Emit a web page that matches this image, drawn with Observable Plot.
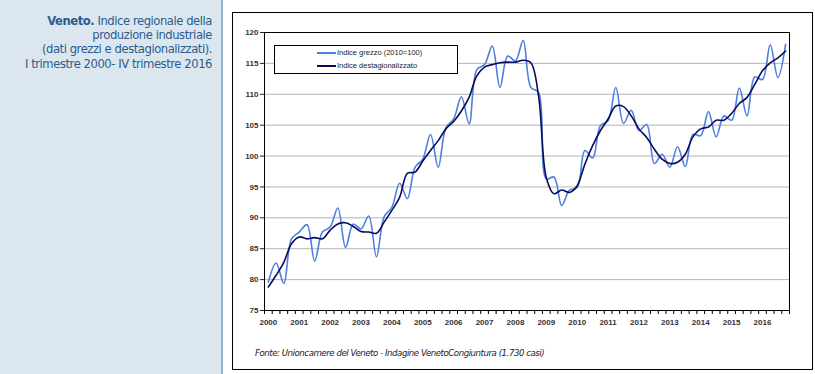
<!DOCTYPE html>
<html>
<head>
<meta charset="utf-8">
<script src="https://cdn.jsdelivr.net/npm/d3@7"></script>
<script src="https://cdn.jsdelivr.net/npm/@observablehq/plot@0.6"></script>
<style>
  html, body { margin: 0; padding: 0; background: #fff; }
  #page { position: relative; width: 815px; height: 374px; overflow: hidden; font-family: "Liberation Sans", Arial, sans-serif; }
  #side { position: absolute; left: 0; top: 0; width: 221px; height: 374px; background: #dce6ef; border-right: 2px solid #93b3d3; }
  #title { position: absolute; right: 9px; top: 14px; text-align: right; color: #2b5c8e; font-size: 11.6px; line-height: 14.2px; font-family: "DejaVu Sans", sans-serif; letter-spacing: -0.45px; }
  #title b { font-weight: bold; }
  #box { position: absolute; left: 232px; top: 12px; width: 579px; height: 356px; border: 1px solid #000; background: #fff; }
  #chart { position: absolute; left: 0; top: 0; }
  #legend { position: absolute; left: 41px; top: 32px; width: 182px; height: 27px; border: 1px solid #000; background: #fff; font-size: 7.5px; color: #222; }
  .lg { position: absolute; left: 42px; height: 10px; line-height: 10px; white-space: nowrap; }
  .lg span.sw { display: inline-block; width: 19px; height: 0; vertical-align: middle; margin-right: 1px; }
  #caption { position: absolute; left: 22px; top: 335px; font-style: italic; font-size: 8.6px; color: #222; font-family: "DejaVu Sans", sans-serif; letter-spacing: -0.45px; white-space: nowrap; }
</style>
</head>
<body>
<div id="page">
  <div id="side"><div id="title"><b>Veneto.</b> Indice regionale della<br>produzione industriale<br>(dati grezzi e destagionalizzati).<br>I trimestre 2000- IV trimestre 2016</div></div>
  <div id="box">
    <div id="chart"></div>
    <div id="legend">
      <div class="lg" style="top:2px"><span class="sw" style="border-top:2px solid #4f7fdc"></span>Indice grezzo (2010=100)</div>
      <div class="lg" style="top:15px"><span class="sw" style="border-top:2px solid #0b0b5e"></span>Indice destagionalizzato</div>
    </div>
    <div id="caption">Fonte: Unioncamere del Veneto - Indagine VenetoCongiuntura (1.730 casi)</div>
  </div>
</div>
<script>
// Tick labels (one per year, at the first quarter)
const years = ["2000","2001","2002","2003","2004","2005","2006","2007","2008","2009","2010","2011","2012","2013","2014","2015","2016"];

// Indice grezzo (2010=100), quarterly, I 2000 - IV 2016
const grezzo = [
  79.6, 82.7, 79.4, 86.6,
  87.7, 88.9, 83.0, 87.7,
  88.5, 91.6, 85.2, 89.0,
  88.2, 90.3, 83.7, 90.2,
  91.7, 95.6, 93.1, 98.2,
  99.5, 103.5, 98.2, 104.6,
  106.0, 109.6, 105.2, 114.0,
  114.8, 117.8, 111.1, 116.2,
  115.4, 118.7, 111.1, 110.3,
  96.3, 96.6, 92.0, 94.5,
  94.9, 100.9, 99.7, 104.9,
  105.7, 111.1, 105.3, 107.4,
  104.1, 105.1, 98.8, 100.3,
  98.2, 101.5, 98.3, 103.5,
  103.3, 107.2, 103.1, 106.5,
  105.8, 111.0, 106.5, 112.8,
  112.4, 118.0, 112.7, 118.1
];

// Indice destagionalizzato, quarterly
const destag = [
  78.8, 80.7, 82.8, 85.8,
  86.9, 86.6, 86.8, 86.6,
  88.0, 89.0, 89.2, 88.6,
  87.8, 87.7, 87.5, 89.3,
  91.2, 93.3, 97.2, 97.4,
  99.2, 100.9, 102.5, 104.4,
  105.6, 107.3, 109.5, 113.0,
  114.4, 114.8, 115.1, 115.2,
  115.2, 115.5, 115.1, 109.7,
  96.5, 93.9, 94.5, 94.1,
  95.2, 98.7, 101.7, 104.1,
  106.0, 108.1, 108.0, 106.5,
  104.4, 103.0, 101.1, 99.5,
  98.8, 99.0, 100.3, 103.1,
  104.4, 104.7, 105.8, 105.8,
  106.9, 108.5, 109.5, 111.6,
  113.8, 115.1, 115.9, 117.0
];

const yTicks = [75, 80, 85, 90, 95, 100, 105, 110, 115, 120];
const gridLines = [80, 85, 90, 95, 100, 105, 110, 115];

const n = grezzo.length;
const idx = d3.range(n);
const boundaries = d3.range(n + 1).map(i => i - 0.5);
const labelPos = years.map((y, k) => k * 4);

const chart = Plot.plot({
  width: 579,
  height: 356,
  marginLeft: 31,
  marginRight: 23,
  marginTop: 19,
  marginBottom: 59,
  style: { fontFamily: "'Liberation Sans', Arial, sans-serif", fontSize: "8px", color: "#222", background: "transparent" },
  x: { domain: [-0.5, n - 0.5], axis: null },
  y: { domain: [75, 120], axis: null },
  marks: [
    Plot.gridY(gridLines, { stroke: "#b4b4b4", strokeOpacity: 1, strokeWidth: 1 }),
    Plot.axisX({ ticks: boundaries, tickSize: 4, tickFormat: () => "", stroke: "#000" }),
    Plot.axisX({ ticks: labelPos, tickSize: 0, tickPadding: 9, tickFormat: i => years[i / 4], fontWeight: "bold", fill: "#333" }),
    Plot.axisY({ ticks: yTicks, tickSize: 4, tickPadding: 2, tickFormat: d => String(d), fontWeight: "bold", fill: "#333" }),
    Plot.line(idx, { x: i => i, y: i => grezzo[i], stroke: "#4f7fdc", strokeWidth: 1.6, curve: "catmull-rom" }),
    Plot.line(idx, { x: i => i, y: i => destag[i], stroke: "#0b0b5e", strokeWidth: 1.6, curve: "catmull-rom" }),
    Plot.frame({ stroke: "#000", strokeWidth: 1 })
  ]
});
document.getElementById("chart").appendChild(chart);
</script>
</body>
</html>
